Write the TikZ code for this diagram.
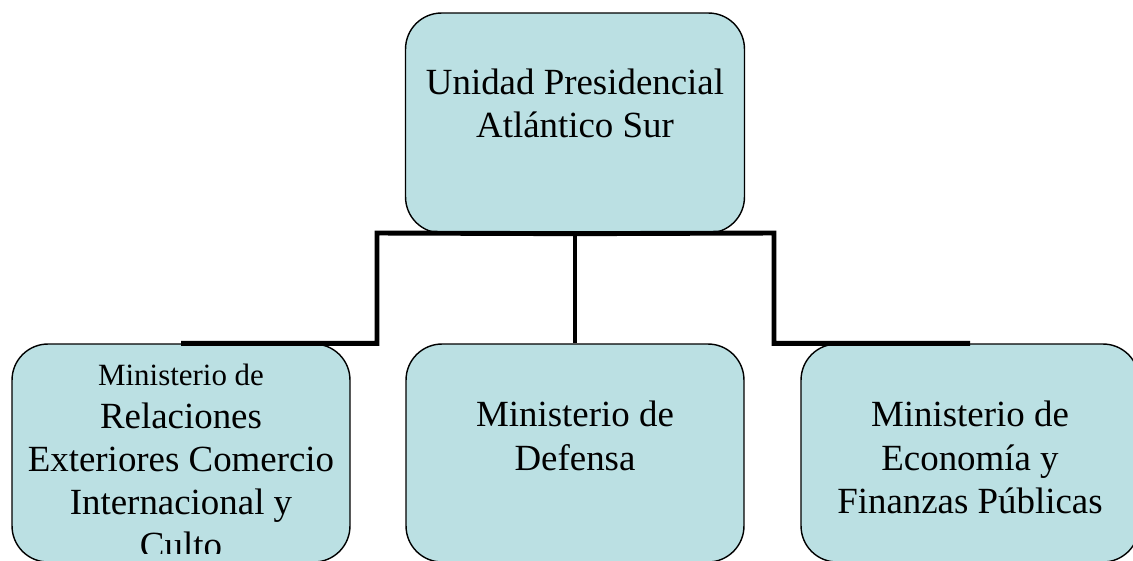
\documentclass[tikz,border=0pt]{standalone}
\usepackage{fontspec}
\setmainfont{Liberation Serif}
\usepackage{xcolor}
\usepackage{tikz}
\definecolor{boxfill}{RGB}{187,224,227}

\begin{document}
\begin{tikzpicture}[
  x=0.02cm, y=-0.02cm,
  box/.style={draw, rounded corners=0.72cm, fill=boxfill, line width=0.8pt, minimum width=6.78cm, minimum height=4.4cm, inner sep=0pt},
  kid/.style={box, minimum width=6.76cm, minimum height=4.36cm},
  txt/.style={anchor=north, align=center, inner sep=0pt, font=\fontsize{21}{24.5}\selectfont},
  conn/.style={line width=2.8pt}
]
\useasboundingbox (0,0) rectangle (1133,561);

\node[box] (ups) at (575,123) {};
\node[kid] (mre) at (181,453) {};
\node[kid] (mdn) at (575,453) {};
\node[kid] (mef) at (970,453) {};

\node[txt] (ups-t) at (575,69) {Unidad Presidencial\\Atlántico Sur};
\node[txt] (mdn-t) at (575,401) {Ministerio de\\Defensa};
\node[txt] (mef-t) at (970,401) {Ministerio de\\Economía y\\Finanzas Públicas};
\begin{scope}
  \clip (12,344) rectangle (350,553);
  \node[txt] (mre-t) at (181,364) {{\fontsize{17.6}{21}\selectfont Ministerio de}\\Relaciones\\Exteriores Comercio\\Internacional y\\Culto};
\end{scope}

\coordinate (elbowL) at (377,233);
\coordinate (elbowR) at (774,233);
\draw[conn] (ups.south) -- (elbowL) |- (mre.north);
\draw[conn] (ups.south) -- (mdn.north);
\draw[conn] (ups.south) -- (elbowR) |- (mef.north);
\end{tikzpicture}
\end{document}
